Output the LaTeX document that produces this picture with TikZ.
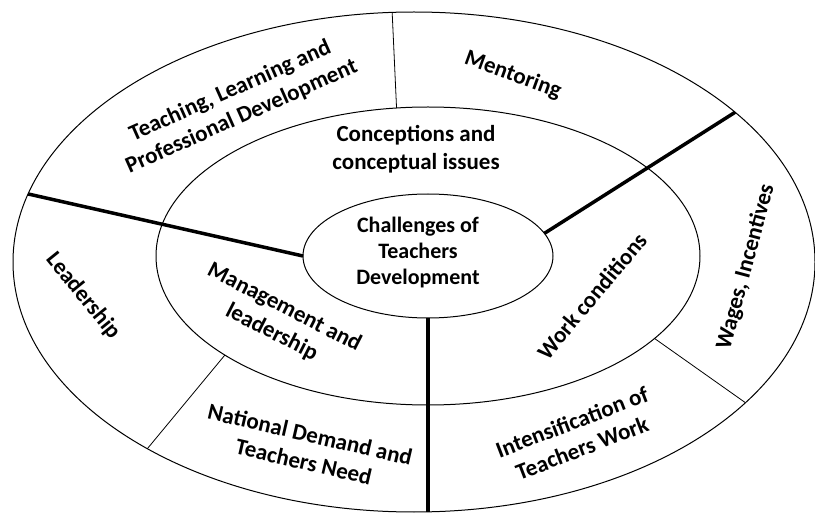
\documentclass[tikz,border=0pt]{standalone}
\usepackage{fontspec}
\setmainfont{Carlito}
\usetikzlibrary{shapes.geometric}

\begin{document}
\begin{tikzpicture}[x=1pt,y=1pt,
  ring/.style={draw,ellipse,line width=1pt,inner sep=0pt,outer sep=0pt},
  sector/.style={font=\bfseries\fontsize{23}{28}\selectfont,align=center,inner sep=0pt},
  bigcut/.style={line width=3.5pt},
  smallcut/.style={line width=0.8pt}]
  \useasboundingbox (0,0) rectangle (815,515);
  % the three rings
  \node[ring,minimum width=802pt,minimum height=500pt] (outer) at (414,253) {};
  \node[ring,minimum width=544pt,minimum height=298pt] (middle) at (428,259) {};
  \node[ring,minimum width=250pt,minimum height=124pt] (inner) at (428,259) {};
  % dividers
  \draw[bigcut] (outer.170.5) -- (inner.180);
  \draw[bigcut] (inner.11.4) -- (outer.25.5);
  \draw[bigcut] (inner.south) -- (inner.south |- outer.south);
  \draw[smallcut] (outer.95.9) -- (middle.102.2);
  \draw[smallcut] (middle.206.3) -- (outer.215.7);
  \draw[smallcut] (middle.340) -- (outer.337.6);
  % labels
  \node[sector,font=\bfseries\fontsize{22}{26}\selectfont] (hub) at (418,262) {Challenges of\\Teachers\\Development};
  \node[sector] (concept) at (416,366) {Conceptions and\\conceptual issues};
  \node[sector,rotate=-27] (manage) at (278,195) {Management and\\leadership};
  \node[sector,rotate=50] (work) at (592,219) {Work conditions};
  \node[sector,rotate=24] (teach) at (236,411) {Teaching, Learning and\\Professional Development};
  \node[sector,rotate=-20] (mentor) at (513,440) {Mentoring};
  \node[sector,rotate=75] (wages) at (746,248) {Wages, Incentives};
  \node[sector,rotate=21] (intens) at (577,80) {Intensification of\\Teachers Work};
  \node[sector,rotate=-13] (nation) at (307,67) {National Demand and\\Teachers Need};
  \node[sector,rotate=-51] (lead) at (83,219) {Leadership};
\end{tikzpicture}
\end{document}
